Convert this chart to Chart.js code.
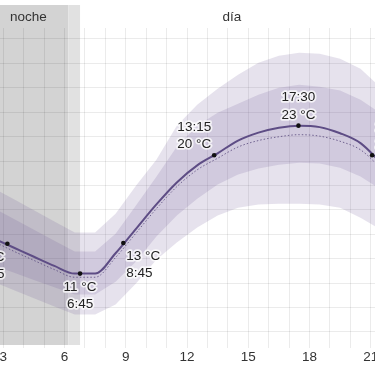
<!DOCTYPE html>
<html><head><meta charset="utf-8">
<script src="https://cdn.jsdelivr.net/npm/chart.js@4/dist/chart.umd.min.js"></script>
<style>html,body{margin:0;padding:0;background:#fff;overflow:hidden}canvas{display:block}</style>
</head><body>
<canvas id="c" width="375" height="366"></canvas>
<script>
// ---- data (hours of day, °C) ----
const hours = [2.5,3.5,4.5,5.5,6.5,7.5,8.5,9.5,10.5,11.5,12.5,13.5,14.5,15.5,16.5,17.5,18.5,19.5,20.5,21.5,22.5];
const temperature = [13.68,12.92,12.16,11.41,10.78,10.78,12.45,14.45,16.45,18.25,19.65,20.63,21.68,22.33,22.73,22.9,22.78,22.28,21.47,19.87,18.3];
const temperatureDotted = [13.43,12.62,11.86,11.11,10.48,10.48,12.1,14.1,16.1,17.9,19.28,20.23,21.15,21.68,21.99,22.16,22.04,21.62,20.92,19.42,17.9];
const innerUpper = [16.16,15.27,14.37,13.47,12.58,12.58,14.05,16.35,18.72,21.18,22.9,23.96,24.7,25.44,26.01,26.26,26.09,25.77,25.03,23.88,22.57];
const innerLower = [11.47,10.87,10.26,9.66,9.06,9.06,10.12,11.76,13.81,15.53,16.92,18.07,18.89,19.38,19.7,19.87,19.79,19.46,18.73,17.66,16.43];
const outerUpper = [17.8,16.89,15.97,15.05,14.14,14.14,15.69,17.98,20.11,22.9,24.62,25.93,27.08,28.06,28.63,28.88,28.8,28.39,27.57,26.01,24.21];
const outerLower = [10.11,9.43,8.76,8.09,7.42,7.42,8.24,9.96,11.92,13.32,14.55,15.53,16.18,16.43,16.51,16.51,16.43,16.18,15.36,14.38,13.15];

const markerHours = [3.2, 6.76, 8.88, 13.33, 17.46, 21.07];
const markerTemps = [13.22, 10.78, 13.28, 20.47, 22.9, 20.47];
const markerTimeLabels = ['3:15', '6:45', '8:45', '13:15', '17:30', '21:00'];
const markerTempLabels = ['13 °C', '11 °C', '13 °C', '20 °C', '23 °C', '20 °C'];
const markerPlacement = ['below-left', 'below', 'below-right', 'above-left', 'above', 'above-right'];

const xTickLabelHours = [3, 6, 9, 12, 15, 18, 21];
const twilightStart = 6.185;
const sunrise = 6.76;
const periodNames = ['noche', 'día'];
const periodCenters = [4.23, 14.2];

const X_MIN = 2.838, X_MAX = 21.21, Y_MIN = 4.7, Y_MAX = 30.9;
const FONT = '"Liberation Sans", Arial, Helvetica, sans-serif';

const xy = arr => hours.map((h, i) => ({x: h, y: arr[i]}));
const bandFill = 'rgba(105,85,150,0.17)';

const backgroundPlugin = {
  id: 'dayNight',
  beforeDraw(chart) {
    const {ctx, chartArea} = chart;
    const xs = chart.scales.x;
    ctx.save();
    ctx.fillStyle = '#fff';
    ctx.fillRect(0, 0, chart.width, chart.height);
    const x0 = chartArea.left;
    const xt = xs.getPixelForValue(twilightStart);
    const xr = xs.getPixelForValue(sunrise);
    ctx.fillStyle = '#d3d3d3';
    ctx.fillRect(x0, 5, xt - x0, 340);
    ctx.fillStyle = '#e1e1e1';
    ctx.fillRect(xt, 5, xr - xt, 340);
    ctx.font = '13.5px ' + FONT;
    ctx.fillStyle = '#333';
    ctx.textAlign = 'center';
    ctx.textBaseline = 'middle';
    periodNames.forEach((n, i) => ctx.fillText(n, xs.getPixelForValue(periodCenters[i]), 17.5));
    ctx.restore();
  }
};

const labelPlugin = {
  id: 'pointLabels',
  afterDatasetsDraw(chart) {
    const {ctx} = chart;
    const xs = chart.scales.x, ys = chart.scales.y;
    ctx.save();
    ctx.font = '13.5px ' + FONT;
    ctx.lineJoin = 'round';
    ctx.textBaseline = 'alphabetic';
    markerHours.forEach((h, i) => {
      const px = xs.getPixelForValue(h), py = ys.getPixelForValue(markerTemps[i]);
      const pl = markerPlacement[i];
      const above = pl.startsWith('above');
      let align = 'center', dx = 0;
      if (pl.endsWith('left')) { align = 'right'; dx = -3; }
      else if (pl.endsWith('right')) { align = 'left'; dx = 3; }
      ctx.textAlign = align;
      const lines = above
        ? [[markerTimeLabels[i], -24.3], [markerTempLabels[i], -7]]
        : [[markerTempLabels[i], 17.2], [markerTimeLabels[i], 34.2]];
      lines.forEach(([t, dy]) => {
        ctx.strokeStyle = 'rgba(255,255,255,0.75)';
        ctx.lineWidth = 3.5;
        ctx.strokeText(t, px + dx, py + dy);
        ctx.fillStyle = '#222';
        ctx.fillText(t, px + dx, py + dy);
      });
    });
    ctx.restore();
  }
};

new Chart(document.getElementById('c'), {
  type: 'line',
  data: {
    datasets: [
      {data: xy(temperature), borderColor: '#5e4d85', borderWidth: 2, pointRadius: 0, cubicInterpolationMode: 'monotone', fill: false},
      {data: xy(temperatureDotted), borderColor: 'rgba(95,80,130,0.85)', borderWidth: 1, borderDash: [1.5, 2], pointRadius: 0, cubicInterpolationMode: 'monotone', fill: false},
      {data: xy(innerUpper), borderColor: 'transparent', borderWidth: 0, pointRadius: 0, tension: 0, fill: '+1', backgroundColor: bandFill},
      {data: xy(innerLower), borderColor: 'transparent', borderWidth: 0, pointRadius: 0, tension: 0, fill: false},
      {data: xy(outerUpper), borderColor: 'transparent', borderWidth: 0, pointRadius: 0, tension: 0, fill: '+1', backgroundColor: bandFill},
      {data: xy(outerLower), borderColor: 'transparent', borderWidth: 0, pointRadius: 0, tension: 0, fill: false},
      {data: markerHours.map((h, i) => ({x: h, y: markerTemps[i]})), showLine: false, pointRadius: 2.3, pointBackgroundColor: '#111', pointBorderWidth: 0, order: -1}
    ]
  },
  options: {
    responsive: false,
    devicePixelRatio: 1,
    animation: false,
    events: [],
    layout: {autoPadding: false, padding: {top: 28, bottom: 0, left: 0, right: 0}},
    plugins: {legend: {display: false}, tooltip: {enabled: false}},
    scales: {
      x: {
        type: 'linear', min: X_MIN, max: X_MAX,
        border: {display: false},
        grid: {color: 'rgba(0,0,0,0.08)', drawTicks: false, lineWidth: 1},
        ticks: {
          stepSize: 1, includeBounds: false, autoSkip: false, maxRotation: 0, padding: 1,
          color: '#333', font: {size: 13.5, family: FONT},
          callback: v => xTickLabelHours.includes(v) ? String(v) : ''
        },
        afterFit(s) { s.paddingLeft = 0; s.paddingRight = 0; }
      },
      y: {
        min: Y_MIN, max: Y_MAX,
        border: {display: false},
        grid: {color: 'rgba(0,0,0,0.08)', drawTicks: false},
        ticks: {display: false, stepSize: 2, includeBounds: false}
      }
    }
  },
  plugins: [backgroundPlugin, labelPlugin]
});
</script>
</body></html>
